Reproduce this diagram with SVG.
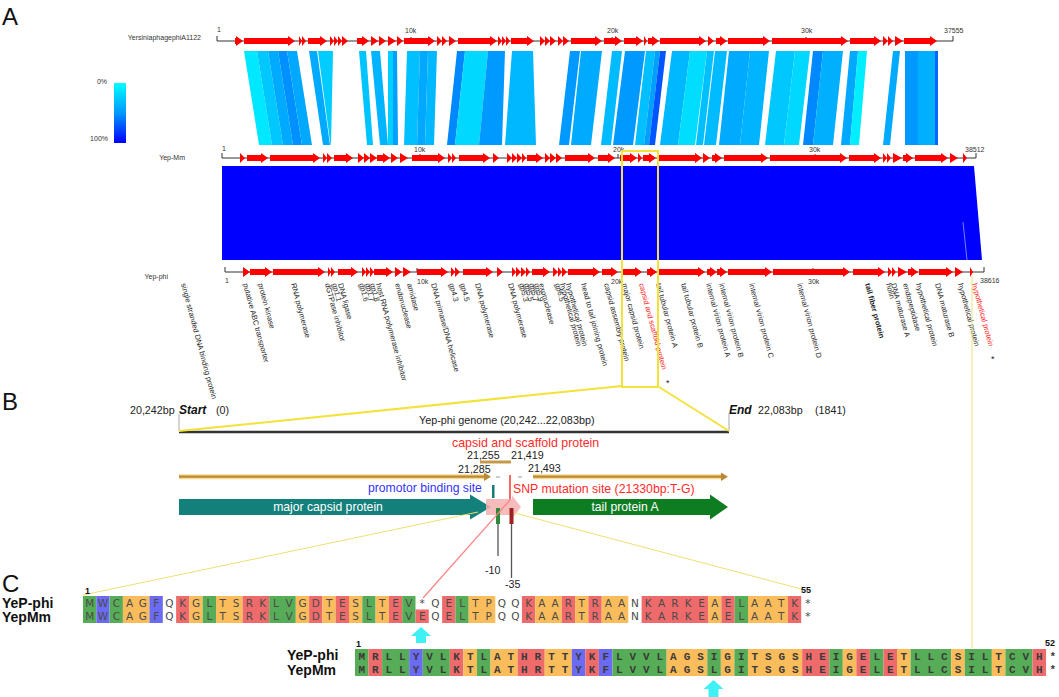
<svg xmlns="http://www.w3.org/2000/svg" width="1059" height="697" viewBox="0 0 1059 697">
<defs>
<linearGradient id="lg" x1="0" y1="0" x2="0" y2="1">
<stop offset="0" stop-color="#00ffff"/>
<stop offset="0.5" stop-color="#0099ff"/>
<stop offset="1" stop-color="#0000ff"/>
</linearGradient>
</defs>
<style>
text{font-family:"Liberation Sans",Arial,sans-serif}
.pl{font-size:24px;fill:#111}
.t7{font-size:7px;fill:#333}
.gene{fill:#ff0000}
.axis{stroke:#333;stroke-width:1;fill:none}
.gl{font-size:7.5px;fill:#222}
.red{fill:#ff2020}
.yl{stroke:#f3e23a;stroke-width:2;fill:none}
.yt{stroke:#eee070;stroke-width:1;fill:none}
.num{font-size:10.7px;fill:#222}
.g{fill:#57ad57}.o{fill:#fbbd5c}.r{fill:#ef6b6b}.b{fill:#6a6af2}
.a1{font-family:"DejaVu Sans",Verdana,sans-serif;font-size:10.5px;fill:#4a4a4a;text-anchor:middle}
.a2{font-family:"Liberation Mono","Courier New",monospace;font-size:11px;font-weight:bold;fill:#3a3a3a;text-anchor:middle}
.sn{font-size:14px;font-weight:bold;fill:#111}
.idx{font-size:9px;font-weight:bold;fill:#111}
</style>
<rect width="1059" height="697" fill="#fff"/>

<g id="panel-labels">
<text class="pl" x="2" y="25">A</text>
<text class="pl" x="2" y="410">B</text>
<text class="pl" x="2" y="592">C</text>
</g>

<g id="legend">
<rect x="114" y="83" width="12" height="60" fill="url(#lg)"/>
<text class="t7" x="107" y="84" text-anchor="end">0%</text>
<text class="t7" x="108" y="141" text-anchor="end">100%</text>
</g>

<g id="bands">
<polygon points="244,51 257,51 272,145 259,145" fill="#00e8ff"/>
<polygon points="257,51 268,51 283,145 272,145" fill="#00c8ff"/>
<polygon points="268,51 278,51 293,145 283,145" fill="#00aaff"/>
<polygon points="278,51 287,51 302,145 293,145" fill="#0090ff"/>
<polygon points="287,51 297,51 312,145 302,145" fill="#00a8ff"/>
<polygon points="309,51 317,51 330,145 323,145" fill="#00aaff"/>
<polygon points="318,51 333,51 331,145 330.5,145" fill="#00ccff"/>
<polygon points="359,51 366,51 373,145 367,145" fill="#00c4ff"/>
<polygon points="371,51 380,51 388,145 380,145" fill="#00b4ff"/>
<polygon points="388,51 393,51 393,145 388,145" fill="#00d0ff"/>
<polygon points="393,51 397,51 398,145 393,145" fill="#00a0ff"/>
<polygon points="407,51 420,51 417,145 404,145" fill="#00c0ff"/>
<polygon points="420,51 428,51 425,145 417,145" fill="#00a8ff"/>
<polygon points="428,51 437,51 434,145 425,145" fill="#00b8ff"/>
<polygon points="457,51 465,51 455,145 447,145" fill="#0088ff"/>
<polygon points="465,51 488,51 479,145 455,145" fill="#00d8ff"/>
<polygon points="488,51 505,51 502,145 479,145" fill="#0099ff"/>
<polygon points="512,51 533,51 536,145 505,145" fill="#00b8ff"/>
<polygon points="570,51 580,51 569,145 559,145" fill="#0099ff"/>
<polygon points="581,51 602,51 591,145 571,145" fill="#00aaff"/>
<polygon points="612,51 622,51 611,145 601,145" fill="#00bbff"/>
<polygon points="625,51 645,51 633,145 613,145" fill="#0099ff"/>
<polygon points="646,51 655,51 644,145 635,145" fill="#00c0ff"/>
<polygon points="655,51 660,51 649,145 644,145" fill="#00a0ff"/>
<polygon points="660,51 666,51 655,145 649,145" fill="#0055ff"/>
<polygon points="672,51 690,51 678,145 660,145" fill="#00b8ff"/>
<polygon points="690,51 707,51 695,145 678,145" fill="#00ddff"/>
<polygon points="707,51 714,51 703,145 696,145" fill="#00c0ff"/>
<polygon points="715,51 727,51 716,145 704,145" fill="#00bbff"/>
<polygon points="729,51 750,51 740,145 719,145" fill="#00aaff"/>
<polygon points="750,51 769,51 759,145 740,145" fill="#00b4ff"/>
<polygon points="776,51 795,51 784,145 765,145" fill="#00c8ff"/>
<polygon points="795,51 810,51 799,145 784,145" fill="#00d8ff"/>
<polygon points="813,51 823,51 813,145 803,145" fill="#0088ff"/>
<polygon points="823,51 843,51 833,145 813,145" fill="#00b0ff"/>
<polygon points="850,51 858,51 850,145 841,145" fill="#00a8ff"/>
<polygon points="858,51 867,51 859,145 850,145" fill="#00eeff"/>
<polygon points="893,51 900,51 890,145 883,145" fill="#00aaff"/>
<polygon points="905,51 918,51 918,145 905,145" fill="#0099ff"/>
<polygon points="918,51 935,51 935,145 918,145" fill="#00b0ff"/>
<polygon points="935,51 938,51 938,145 935,145" fill="#0066ff"/>
</g>

<g id="block">
<polygon points="222,166 974,166 982,260 222,260" fill="#0000ff"/>
<line x1="963" y1="222" x2="967" y2="260" stroke="#8fa0ff" stroke-width="0.8"/>
</g>

<g id="genome-top">
<text class="t7" x="201" y="40" text-anchor="end">YersiniaphagephiA1122</text>
<path class="axis" d="M217 36V41H953V36M411 37V41M612 37V41M806 37V41"/>
<text class="t7" x="217" y="32">1</text>
<text class="t7" x="405" y="33">10k</text>
<text class="t7" x="607" y="33">20k</text>
<text class="t7" x="801" y="33">30k</text>
<text class="t7" x="944" y="33">37555</text>
<path class="gene" d="M235 38H236V36L243 41L236 46V44H235ZM244 38H288V36L295 41L288 46V44H244ZM299 36L302 41L299 46ZM302 36L306 41L302 46ZM308 38H320V36L327 41L320 46V44H308ZM330 36L334 41L330 46ZM334 36L338 41L334 46ZM338 36L342 41L338 46ZM342 36L348 41L342 46ZM357 38H362V36L369 41L362 46V44H357ZM371 36L378 41L371 46ZM379 36L386 41L379 46ZM388 36L396 41L388 46ZM397 36L403 41L397 46ZM404 38H428V36L435 41L428 46V44H404ZM437 36L442 41L437 46ZM442 36L447 41L442 46ZM449 36L456 41L449 46ZM458 38H490V36L497 41L490 46V44H458ZM498 36L502 41L498 46ZM502 36L506 41L502 46ZM506 36L510 41L506 46ZM511 38H527V36L534 41L527 46V44H511ZM540 36L545 41L540 46ZM545 36L550 41L545 46ZM550 36L556 41L550 46ZM558 36L563 41L558 46ZM563 36L569 41L563 46ZM571 38H595V36L602 41L595 46V44H571ZM604 38H615V36L622 41L615 46V44H604ZM624 38H636V36L643 41L636 46V44H624ZM644 36L647 41L644 46ZM648 38H652V36L659 41L652 46V44H648ZM660 38H699V36L706 41L699 46V44H660ZM708 36L714 41L708 46ZM716 38H720V36L727 41L720 46V44H716ZM728 38H763V36L770 41L763 46V44H728ZM772 38H841V36L848 41L841 46V44H772ZM850 38H874V36L881 41L874 46V44H850ZM883 36L888 41L883 46ZM888 36L893 41L888 46ZM895 36L903 41L895 46ZM904 38H930V36L937 41L930 46V44H904Z"/>
</g>

<g id="genome-mm">
<text class="t7" x="185" y="160" text-anchor="end">Yep-Mm</text>
<path class="axis" d="M222 153V158H976V153M420 154V158M618 154V158M815 154V158"/>
<text class="t7" x="222" y="151">1</text>
<text class="t7" x="414" y="152">10k</text>
<text class="t7" x="613" y="152">20k</text>
<text class="t7" x="809" y="152">30k</text>
<text class="t7" x="965" y="152">38512</text>
<path class="gene" d="M240 153L245 158L240 163ZM247 155H261V153L268 158L261 163V161H247ZM270 155H313V153L320 158L313 163V161H270ZM323 153L327 158L323 163ZM327 153L332 158L327 163ZM334 155H346V153L353 158L346 163V161H334ZM358 153L364 158L358 163ZM364 153L370 158L364 163ZM370 153L377 158L370 163ZM377 155H383V153L390 158L383 163V161H377ZM391 153L398 158L391 163ZM400 153L408 158L400 163ZM412 155H438V153L445 158L438 163V161H412ZM448 153L452 158L448 163ZM452 153L456 158L452 163ZM459 155H483V153L490 158L483 163V161H459ZM493 153L499 158L493 163ZM507 153L512 158L507 163ZM512 153L517 158L512 163ZM517 153L522 158L517 163ZM522 153L526 158L522 163ZM527 155H536V153L543 158L536 163V161H527ZM545 153L550 158L545 163ZM550 153L556 158L550 163ZM556 153L562 158L556 163ZM565 155H588V153L595 158L588 163V161H565ZM598 155H608V153L615 158L608 163V161H598ZM620 155H630V153L637 158L630 163V161H620ZM638 153L642 158L638 163ZM643 155H649V153L656 158L649 163V161H643ZM657 155H695V153L702 158L695 163V161H657ZM703 153L710 158L703 163ZM712 155H715V153L722 158L715 163V161H712ZM724 155H761V153L768 158L761 163V161H724ZM770 155H840V153L847 158L840 163V161H770ZM849 155H874V153L881 158L874 163V161H849ZM883 153L887 158L883 163ZM887 153L891 158L887 163ZM893 153L902 158L893 163ZM903 155H906V153L913 158L906 163V161H903ZM915 155H941V153L948 158L941 163V161H915ZM950 153L958 158L950 163ZM963 153L967 158L963 163Z"/>
</g>

<g id="genome-phi">
<text class="t7" x="168" y="279" text-anchor="end">Yep-phi</text>
<path class="axis" d="M225 267V272H984V267M417 268V272M612 268V272M813 268V272"/>
<text class="t7" x="225" y="283">1</text>
<text class="t7" x="417" y="284">10k</text>
<text class="t7" x="611" y="284">20k</text>
<text class="t7" x="808" y="284">30k</text>
<text class="t7" x="980" y="283">38616</text>
<path class="gene" d="M243 267L250 272L243 277ZM250 269H265V267L272 272L265 277V275H250ZM273 269H318V267L325 272L318 277V275H273ZM328 267L331 272L328 277ZM331 267L335 272L331 277ZM338 269H351V267L358 272L351 277V275H338ZM362 267L366 272L362 277ZM366 267L370 272L366 277ZM370 267L374 272L370 277ZM374 269H386V267L393 272L386 277V275H374ZM395 267L402 272L395 277ZM403 267L411 272L403 277ZM417 269H441V267L448 272L441 277V275H417ZM451 267L455 272L451 277ZM455 267L460 272L455 277ZM463 269H486V267L493 272L486 277V275H463ZM497 267L503 272L497 277ZM512 267L516 272L512 277ZM516 267L521 272L516 277ZM521 267L526 272L521 277ZM526 267L530 272L526 277ZM532 269H543V267L550 272L543 277V275H532ZM553 267L558 272L553 277ZM558 267L562 272L558 277ZM562 267L567 272L562 277ZM568 269H593V267L600 272L593 277V275H568ZM602 269H611V267L618 272L611 277V275H602ZM622 269H635V267L642 272L635 277V275H622ZM647 269H650V267L657 272L650 277V275H647ZM658 269H698V267L705 272L698 277V275H658ZM707 269H710V267L717 272L710 277V275H707ZM717 269H720V267L727 272L720 277V275H717ZM728 269H765V267L772 272L765 277V275H728ZM773 269H843V267L850 272L843 277V275H773ZM853 269H878V267L885 272L878 277V275H853ZM888 267L892 272L888 277ZM892 267L896 272L892 277ZM898 267L907 272L898 277ZM908 269H911V267L918 272L911 277V275H908ZM919 269H946V267L953 272L946 277V275H919ZM955 267L963 272L955 277ZM970 267L973 272L970 277Z"/>
</g>

<g id="gene-labels" class="gl">
<text x="181" y="284" transform="rotate(75 181 284)">single stranded DNA binding protein</text>
<text x="243" y="284" transform="rotate(75 243 284)">putative ABC transporter</text>
<text x="258" y="284" transform="rotate(75 258 284)">protein kinase</text>
<text x="291" y="284" transform="rotate(75 291 284)">RNA polymerase</text>
<text x="325" y="284" transform="rotate(75 325 284)">dGTPase inhibitor</text>
<text x="332" y="284" transform="rotate(75 332 284)">gp1.1</text>
<text x="338" y="284" transform="rotate(75 338 284)">DNA ligase</text>
<text x="359" y="284" transform="rotate(75 359 284)">gp1.6</text>
<text x="365" y="284" transform="rotate(75 365 284)">gp1.7</text>
<text x="370" y="284" transform="rotate(75 370 284)">gp1.8</text>
<text x="376" y="284" transform="rotate(75 376 284)">host RNA polymerase inhibitor</text>
<text x="395" y="284" transform="rotate(75 395 284)">endonuclease</text>
<text x="407" y="284" transform="rotate(75 407 284)">amidase</text>
<text x="431" y="284" transform="rotate(75 431 284)">DNA primase/DNA helicase</text>
<text x="449" y="284" transform="rotate(75 449 284)">gp4.3</text>
<text x="460" y="284" transform="rotate(75 460 284)">gp4.5</text>
<text x="475" y="284" transform="rotate(75 475 284)">DNA polymerase</text>
<text x="508" y="284" transform="rotate(75 508 284)">DNA polymerase</text>
<text x="519" y="284" transform="rotate(75 519 284)">gp5.3</text>
<text x="524" y="284" transform="rotate(75 524 284)">gp5.5</text>
<text x="529" y="284" transform="rotate(75 529 284)">gp5.7</text>
<text x="534" y="284" transform="rotate(75 534 284)">gp5.9</text>
<text x="539" y="284" transform="rotate(75 539 284)">exonuclease</text>
<text x="555" y="284" transform="rotate(75 555 284)">gp6.5</text>
<text x="560" y="284" transform="rotate(75 560 284)">hypothetical protein</text>
<text x="566" y="284" transform="rotate(75 566 284)">hypothetical protein</text>
<text x="581" y="284" transform="rotate(75 581 284)">head to tail joining protein</text>
<text x="604" y="284" transform="rotate(75 604 284)">capsid assembly protein</text>
<text x="622" y="284" transform="rotate(75 622 284)">major capsid protein</text>
<text class="red" x="639" y="284" transform="rotate(75 639 284)">capsid and scaffold protein</text>
<text x="656" y="284" transform="rotate(75 656 284)">tail tubular protein A</text>
<text x="681" y="284" transform="rotate(75 681 284)">tail tubular protein B</text>
<text x="706" y="284" transform="rotate(75 706 284)">internal virion protein A</text>
<text x="719" y="284" transform="rotate(75 719 284)">internal virion protein B</text>
<text x="749" y="284" transform="rotate(75 749 284)">internal virion protein C</text>
<text x="797" y="284" transform="rotate(75 797 284)">internal virion protein D</text>
<text x="865" y="284" font-weight="bold" transform="rotate(75 865 284)">tail fiber protein</text>
<text x="886" y="284" transform="rotate(75 886 284)">holin</text>
<text x="891" y="284" transform="rotate(75 891 284)">DNA maturase A</text>
<text x="903" y="284" transform="rotate(75 903 284)">endopeptidase</text>
<text x="916" y="284" transform="rotate(75 916 284)">hypothetical protein</text>
<text x="935" y="284" transform="rotate(75 935 284)">DNA maturase B</text>
<text x="958" y="284" transform="rotate(75 958 284)">hypothetical protein</text>
<text class="red" x="972" y="284" transform="rotate(75 972 284)">hypothetical protein</text>
<text x="666" y="386" font-size="9">*</text>
<text x="991" y="362" font-size="9">*</text>
</g>

<g id="region-b">
<text class="num" x="130" y="414">20,242bp</text>
<text x="179" y="414" font-size="12" font-weight="bold" font-style="italic" fill="#111">Start</text>
<text class="num" x="216" y="414">(0)</text>
<text x="729" y="414" font-size="12" font-weight="bold" font-style="italic" fill="#111">End</text>
<text class="num" x="758" y="414">22,083bp</text>
<text class="num" x="815" y="414">(1841)</text>
<line x1="179" y1="414" x2="179" y2="431" stroke="#aaa" stroke-width="1"/>
<line x1="729" y1="413" x2="729" y2="431" stroke="#aaa" stroke-width="1"/>
<line x1="179" y1="432" x2="729" y2="432" stroke="#333" stroke-width="2.6"/>
<text x="419" y="424" font-size="10.8" fill="#222">Yep-phi genome (20,242...22,083bp)</text>
<text x="452" y="447" font-size="12.4" fill="#ff2a2a">capsid and scaffold protein</text>
<text class="num" x="467" y="459">21,255</text>
<text class="num" x="511" y="459">21,419</text>
<line x1="480" y1="462" x2="511" y2="462" stroke="#c49a48" stroke-width="3"/>
<text class="num" x="458" y="473">21,285</text>
<text class="num" x="528" y="472">21,493</text>
<line x1="179" y1="476.7" x2="486" y2="476.7" stroke="#f7d98f" stroke-width="5"/>
<line x1="179" y1="476.7" x2="486" y2="476.7" stroke="#b98a35" stroke-width="2.2"/>
<polygon points="484,472.5 491,476.7 484,481" fill="#b98a35"/>
<line x1="533" y1="476.7" x2="723" y2="476.7" stroke="#f7d98f" stroke-width="5"/>
<line x1="533" y1="476.7" x2="723" y2="476.7" stroke="#b98a35" stroke-width="2.2"/>
<polygon points="721,472.5 728,476.7 721,481" fill="#b98a35"/>
<line x1="496" y1="477" x2="500" y2="477" stroke="#999" stroke-width="1"/>
<line x1="518" y1="477" x2="522" y2="477" stroke="#999" stroke-width="1"/>
<text x="368" y="492" font-size="12.2" fill="#3333ff">promotor binding site</text>
<text x="513" y="493" font-size="12.3" fill="#ff2a2a">SNP mutation site (21330bp:T-G)</text>
<rect x="492" y="485" width="2.5" height="13" fill="#1a7a7a"/>
<line x1="510" y1="475" x2="510" y2="500" stroke="#ff3030" stroke-width="1.5"/>
<g id="major-capsid">
<polygon points="179,499 470,499 470,494.5 491,507 470,519.5 470,515 179,515" fill="#14807b"/>
<text x="328" y="511" font-size="12.2" fill="#fff" text-anchor="middle">major capsid protein</text>
</g>
<polygon points="486,499 512,499 512,495.5 521,507 512,518.5 512,515 486,515" fill="#f5b0b0" opacity="0.85"/>
<g id="tail-protein-a">
<polygon points="533,499 710,499 710,494.5 728,507 710,519.5 710,515 533,515" fill="#0e7d22"/>
<text x="625" y="511" font-size="12.2" fill="#fff" text-anchor="middle">tail protein A</text>
</g>
<rect x="496" y="508" width="4" height="16" fill="#2d8a3a"/>
<rect x="509.5" y="508" width="4" height="16" fill="#a02020"/>
<line x1="498" y1="524" x2="498" y2="556" stroke="#555" stroke-width="1.3"/>
<line x1="511.5" y1="524" x2="511.5" y2="578" stroke="#555" stroke-width="1.3"/>
<text class="num" x="485" y="574">-10</text>
<text class="num" x="505" y="588">-35</text>
</g>

<g id="connectors">
<path class="yl" d="M622 151H658V387H622ZM622 386L179 431M659 387L729 431"/>
<line class="yt" x1="972" y1="276" x2="972" y2="648"/>
<line class="yt" x1="83" y1="595" x2="478" y2="512"/>
<line class="yt" x1="515" y1="513" x2="805" y2="590"/>
<line x1="510" y1="500" x2="423" y2="598" stroke="#ff8080" stroke-width="1.2"/>
</g>

<g id="alignment-1">
<text class="sn" x="2" y="608">YeP-phi</text>
<text class="sn" x="2" y="622">YepMm</text>
<text class="idx" x="85" y="594">1</text>
<text class="idx" x="801" y="593">55</text>
<rect class="g" x="83" y="596" width="13.3" height="27"/>
<rect class="b" x="96.3" y="596" width="13.3" height="27"/>
<rect class="g" x="109.6" y="596" width="13.3" height="27"/>
<rect class="o" x="122.9" y="596" width="26.6" height="27"/>
<rect class="b" x="149.5" y="596" width="13.3" height="27"/>
<rect class="r" x="176.1" y="596" width="13.3" height="27"/>
<rect class="o" x="189.4" y="596" width="13.3" height="27"/>
<rect class="g" x="202.7" y="596" width="13.3" height="27"/>
<rect class="o" x="216" y="596" width="26.6" height="27"/>
<rect class="r" x="242.6" y="596" width="26.6" height="27"/>
<rect class="g" x="269.2" y="596" width="26.6" height="27"/>
<rect class="o" x="295.8" y="596" width="13.3" height="27"/>
<rect class="r" x="309.1" y="596" width="13.3" height="27"/>
<rect class="o" x="322.4" y="596" width="13.3" height="27"/>
<rect class="r" x="335.7" y="596" width="13.3" height="27"/>
<rect class="o" x="349" y="596" width="13.3" height="27"/>
<rect class="g" x="362.3" y="596" width="13.3" height="27"/>
<rect class="o" x="375.6" y="596" width="13.3" height="27"/>
<rect class="r" x="388.9" y="596" width="13.3" height="27"/>
<rect class="g" x="402.2" y="596" width="13.3" height="27"/>
<rect class="r" x="415.5" y="609.5" width="13.3" height="13.5"/>
<rect class="r" x="442.1" y="596" width="13.3" height="27"/>
<rect class="g" x="455.4" y="596" width="13.3" height="27"/>
<rect class="o" x="468.7" y="596" width="26.6" height="27"/>
<rect class="r" x="521.9" y="596" width="13.3" height="27"/>
<rect class="o" x="535.2" y="596" width="26.6" height="27"/>
<rect class="r" x="561.8" y="596" width="13.3" height="27"/>
<rect class="o" x="575.1" y="596" width="13.3" height="27"/>
<rect class="r" x="588.4" y="596" width="13.3" height="27"/>
<rect class="o" x="601.7" y="596" width="26.6" height="27"/>
<rect class="r" x="641.6" y="596" width="66.5" height="27"/>
<rect class="o" x="708.1" y="596" width="13.3" height="27"/>
<rect class="r" x="721.4" y="596" width="13.3" height="27"/>
<rect class="g" x="734.7" y="596" width="13.3" height="27"/>
<rect class="o" x="748" y="596" width="39.9" height="27"/>
<rect class="r" x="787.9" y="596" width="13.3" height="27"/>
<text class="a1" y="606.5" x="89.7 103 116.3 129.6 142.9 156.2 169.5 182.8 196.1 209.4 222.7 236 249.3 262.6 275.9 289.2 302.5 315.8 329.1 342.4 355.7 369 382.3 395.6 408.9 422.2 435.5 448.8 462.1 475.4 488.7 502 515.3 528.6 541.9 555.2 568.5 581.8 595.1 608.4 621.7 635 648.3 661.6 674.9 688.2 701.5 714.8 728.1 741.4 754.7 768 781.3 794.6 807.9">MWCAGFQKGLTSRKLVGDTESLTEV*QELTPQQKAARTRAANKARKEAELAATK*</text>
<text class="a1" y="620" x="89.7 103 116.3 129.6 142.9 156.2 169.5 182.8 196.1 209.4 222.7 236 249.3 262.6 275.9 289.2 302.5 315.8 329.1 342.4 355.7 369 382.3 395.6 408.9 422.2 435.5 448.8 462.1 475.4 488.7 502 515.3 528.6 541.9 555.2 568.5 581.8 595.1 608.4 621.7 635 648.3 661.6 674.9 688.2 701.5 714.8 728.1 741.4 754.7 768 781.3 794.6 807.9">MWCAGFQKGLTSRKLVGDTESLTEVEQELTPQQKAARTRAANKARKEAELAATK*</text>
</g>

<g id="alignment-2">
<text class="sn" x="287" y="660">YeP-phi</text>
<text class="sn" x="287" y="675">YepMm</text>
<text class="idx" x="356" y="647">1</text>
<text class="idx" x="1045" y="646">52</text>
<rect class="g" x="355" y="649" width="13.55" height="27"/>
<rect class="r" x="368.55" y="649" width="13.55" height="27"/>
<rect class="g" x="382.1" y="649" width="27.1" height="27"/>
<rect class="b" x="409.2" y="649" width="13.55" height="27"/>
<rect class="g" x="422.75" y="649" width="27.1" height="27"/>
<rect class="r" x="449.85" y="649" width="13.55" height="27"/>
<rect class="o" x="463.4" y="649" width="13.55" height="27"/>
<rect class="g" x="476.95" y="649" width="13.55" height="27"/>
<rect class="o" x="490.5" y="649" width="27.1" height="27"/>
<rect class="r" x="517.6" y="649" width="27.1" height="27"/>
<rect class="o" x="544.7" y="649" width="27.1" height="27"/>
<rect class="b" x="571.8" y="649" width="13.55" height="27"/>
<rect class="r" x="585.35" y="649" width="13.55" height="27"/>
<rect class="b" x="598.9" y="649" width="13.55" height="27"/>
<rect class="g" x="612.45" y="649" width="54.2" height="27"/>
<rect class="o" x="666.65" y="649" width="40.65" height="27"/>
<rect class="g" x="707.3" y="649" width="13.55" height="27"/>
<rect class="o" x="720.85" y="649" width="13.55" height="27"/>
<rect class="g" x="734.4" y="649" width="13.55" height="27"/>
<rect class="o" x="747.95" y="649" width="54.2" height="27"/>
<rect class="r" x="802.15" y="649" width="27.1" height="27"/>
<rect class="g" x="829.25" y="649" width="13.55" height="27"/>
<rect class="o" x="842.8" y="649" width="13.55" height="27"/>
<rect class="r" x="856.35" y="649" width="13.55" height="27"/>
<rect class="g" x="869.9" y="649" width="13.55" height="27"/>
<rect class="r" x="883.45" y="649" width="13.55" height="27"/>
<rect class="o" x="897" y="649" width="13.55" height="27"/>
<rect class="g" x="910.55" y="649" width="40.65" height="27"/>
<rect class="o" x="951.2" y="649" width="13.55" height="27"/>
<rect class="g" x="964.75" y="649" width="27.1" height="27"/>
<rect class="o" x="991.85" y="649" width="13.55" height="27"/>
<rect class="g" x="1005.4" y="649" width="27.1" height="27"/>
<rect class="r" x="1032.5" y="649" width="13.55" height="27"/>
<text class="a2" y="659.5" x="361.8 375.3 388.9 402.4 416 429.5 443.1 456.6 470.2 483.7 497.3 510.8 524.4 537.9 551.5 565 578.6 592.1 605.7 619.2 632.8 646.3 659.9 673.4 687 700.5 714.1 727.6 741.2 754.7 768.3 781.8 795.4 808.9 822.5 836 849.6 863.1 876.7 890.2 903.8 917.3 930.9 944.4 958 971.5 985.1 998.6 1012.2 1025.7 1039.3 1052.8">MRLLYVLKTLATHRTTYKFLVVLAGSIGITSGSHEIGELETLLCSILTCVH*</text>
<text class="a2" y="673" x="361.8 375.3 388.9 402.4 416 429.5 443.1 456.6 470.2 483.7 497.3 510.8 524.4 537.9 551.5 565 578.6 592.1 605.7 619.2 632.8 646.3 659.9 673.4 687 700.5 714.1 727.6 741.2 754.7 768.3 781.8 795.4 808.9 822.5 836 849.6 863.1 876.7 890.2 903.8 917.3 930.9 944.4 958 971.5 985.1 998.6 1012.2 1025.7 1039.3 1052.8">MRLLYVLKTLATHRTTYKFLVVLAGSLGITSGSHEIGELETLLCSILTCVH*</text>
</g>

<g id="snp-arrows" fill="#3ff0f5">
<polygon points="421,627 431,636 426,636 426,643 416,643 416,636 411,636"/>
<polygon points="713.5,680 723.5,689 718.5,689 718.5,697 708.5,697 708.5,689 703.5,689"/>
</g>
</svg>
